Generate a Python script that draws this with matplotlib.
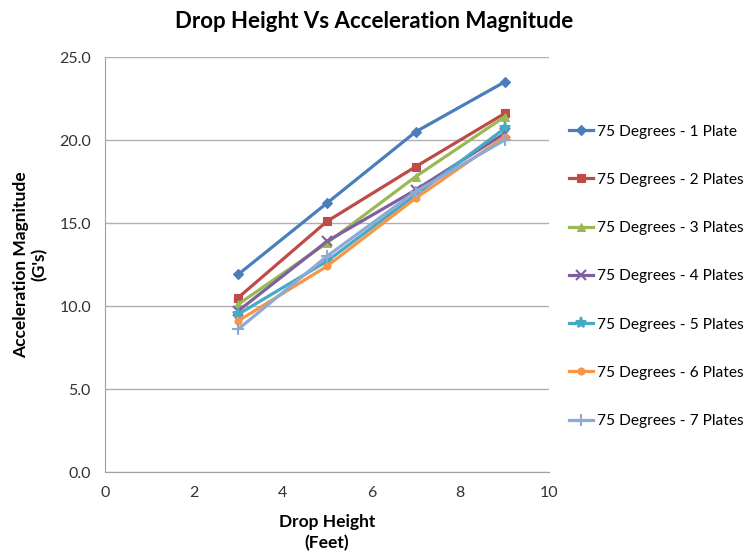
import matplotlib.pyplot as plt

plt.rcParams['font.family'] = ['Lato', 'DejaVu Sans']

drop_height = [3, 5, 7, 9]
plate_1 = [11.9, 16.2, 20.5, 23.5]
plate_2 = [10.5, 15.1, 18.4, 21.6]
plate_3 = [10.1, 13.8, 17.8, 21.4]
plate_4 = [9.7, 13.9, 17.0, 20.4]
plate_5 = [9.5, 12.7, 16.7, 20.7]
plate_6 = [9.1, 12.4, 16.5, 20.2]
plate_7 = [8.6, 13.0, 16.9, 20.0]

labels = ["75 Degrees - 1 Plate", "75 Degrees - 2 Plates", "75 Degrees - 3 Plates",
          "75 Degrees - 4 Plates", "75 Degrees - 5 Plates", "75 Degrees - 6 Plates",
          "75 Degrees - 7 Plates"]
series = [plate_1, plate_2, plate_3, plate_4, plate_5, plate_6, plate_7]
colors = ["#4A7EBB", "#BE4B48", "#98B954", "#7D60A0", "#46AAC5", "#F79646", "#8EA9D6"]
markers = ["D", "s", "^", "x", "*", "o", "+"]
sizes = [5, 6, 6, 7, 8, 5, 8]

fig = plt.figure(figsize=(7.49, 5.54), dpi=100)
ax = fig.add_axes([0.140, 0.148, 0.593, 0.749])

for y, lab, c, m, s in zip(series, labels, colors, markers, sizes):
    ax.plot(drop_height, y, color=c, marker=m, ms=s, lw=2.3, label=lab,
            markeredgewidth=1.5 if m in ("x", "+", "*") else 0.8)

ax.set_xlim(0, 10)
ax.set_ylim(0, 25)
ax.set_xticks([0, 2, 4, 6, 8, 10])
ax.set_yticks([0, 5, 10, 15, 20, 25])
ax.set_yticklabels([f"{v:.1f}" for v in [0, 5, 10, 15, 20, 25]])
ax.yaxis.grid(True, color="#B0B0B0", lw=1)
ax.set_axisbelow(True)
for side in ("top", "right"):
    ax.spines[side].set_visible(False)
for side in ("left", "bottom"):
    ax.spines[side].set_color("#A0A0A0")
ax.tick_params(length=0, labelsize=11.5, colors="#333333", pad=10)

ax.set_xlabel("Drop Height\n(Feet)", fontsize=12.5, fontweight="bold", labelpad=10,
              linespacing=1.4)
ax.set_ylabel("Acceleration Magnitude\n(G's)", fontsize=12.5, fontweight="bold", labelpad=8)
fig.suptitle("Drop Height Vs Acceleration Magnitude", fontsize=16, fontweight="bold",
             x=0.5, y=0.98)

ax.legend(loc="upper left", bbox_to_anchor=(1.03, 0.852), frameon=False, fontsize=11.2,
          handlelength=1.6, handletextpad=0.2, labelspacing=2.2, borderaxespad=0)

fig.savefig("out.png", dpi=100)
